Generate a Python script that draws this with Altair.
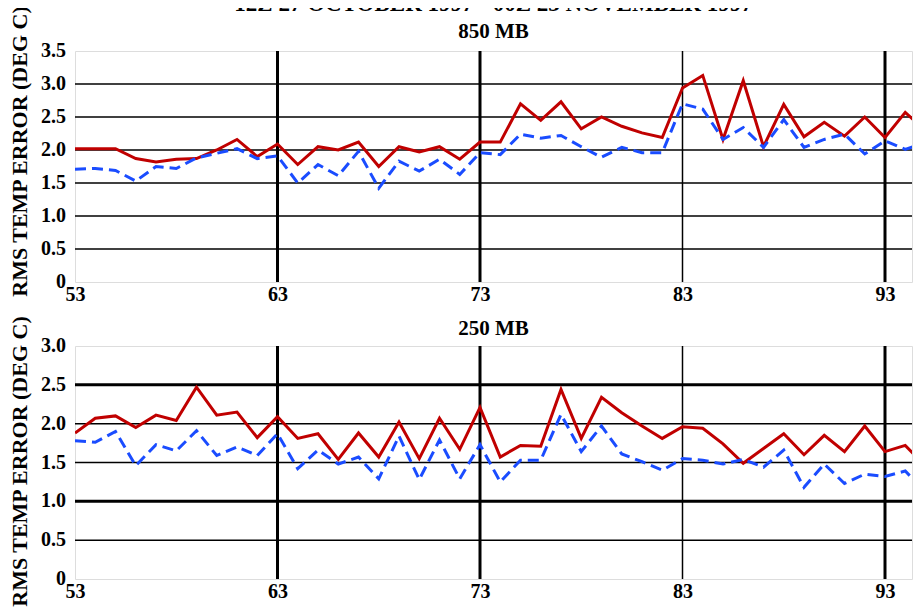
import altair as alt
import pandas as pd

hours = list(range(53, 96))

up_red = [2.02, 2.02, 2.02, 1.87, 1.82, 1.86, 1.87, 2.00, 2.16, 1.90,
          2.09, 1.78, 2.05, 2.00, 2.12, 1.75, 2.05, 1.97, 2.05, 1.86,
          2.12, 2.12, 2.70, 2.45, 2.73, 2.32, 2.50, 2.36, 2.26, 2.19,
          2.94, 3.13, 2.16, 3.05, 2.05, 2.69, 2.20, 2.42, 2.21, 2.50,
          2.19, 2.57, 2.29]
up_blue = [1.71, 1.72, 1.69, 1.53, 1.75, 1.72, 1.88, 1.95, 2.02, 1.87,
           1.91, 1.50, 1.78, 1.61, 1.98, 1.42, 1.83, 1.68, 1.86, 1.63,
           1.96, 1.93, 2.24, 2.18, 2.22, 2.05, 1.89, 2.04, 1.96, 1.96,
           2.70, 2.62, 2.16, 2.34, 2.04, 2.46, 2.04, 2.16, 2.24, 1.94,
           2.14, 2.01, 2.11]
lo_red = [1.88, 2.07, 2.10, 1.95, 2.11, 2.04, 2.47, 2.11, 2.15, 1.82,
          2.09, 1.81, 1.87, 1.54, 1.88, 1.57, 2.02, 1.55, 2.07, 1.67,
          2.21, 1.57, 1.72, 1.71, 2.44, 1.81, 2.34, 2.14, 1.97, 1.81,
          1.96, 1.94, 1.74, 1.49, 1.68, 1.87, 1.60, 1.85, 1.64, 1.97,
          1.64, 1.72, 1.45]
lo_blue = [1.78, 1.76, 1.90, 1.46, 1.73, 1.65, 1.91, 1.59, 1.70, 1.59,
           1.87, 1.42, 1.66, 1.48, 1.57, 1.29, 1.84, 1.28, 1.79, 1.29,
           1.73, 1.25, 1.53, 1.53, 2.12, 1.64, 1.97, 1.61, 1.51, 1.40,
           1.55, 1.53, 1.48, 1.54, 1.44, 1.66, 1.18, 1.48, 1.23, 1.35,
           1.32, 1.39, 1.12]

x_ticks = [53, 63, 73, 83, 93]
vgrid_thick = [63, 73, 93]
vgrid_thin = [83]
up_y_ticks = [0, 0.5, 1.0, 1.5, 2.0, 2.5, 3.0, 3.5]
up_y_labels = ["0", "0.5", "1.0", "1.5", "2.0", "2.5", "3.0", "3.5"]
lo_y_ticks = [0, 0.5, 1.0, 1.5, 2.0, 2.5, 3.0]
lo_y_labels = ["0", "0.5", "1.0", "1.5", "2.0", "2.5", "3.0"]
up_hgrid_thin = [0.5, 1.0, 1.5, 2.0, 2.5, 3.0]
up_hgrid_thick = []
lo_hgrid_thin = [0.5, 1.5, 2.0]
lo_hgrid_thick = [1.0, 2.5]

main_title = "12Z 27 OCTOBER 1997 - 00Z 23 NOVEMBER 1997"
y_title = "RMS TEMP ERROR (DEG C)"

FONT = "Liberation Serif"
RED = "#c00000"
BLUE = "#1a4cff"
W = 837
X_MAX = 53 + W / 20.25


def yscale(ymax):
    return alt.Scale(domain=[0, ymax], nice=False)


def xscale():
    return alt.Scale(domain=[53, X_MAX], nice=False, zero=False)


def rules_h(vals, width, ymax):
    df = pd.DataFrame({"v": vals})
    return alt.Chart(df).mark_rule(color="black", strokeWidth=width).encode(
        y=alt.Y("v:Q", scale=yscale(ymax)))


def rules_v(vals, width):
    df = pd.DataFrame({"v": vals})
    return alt.Chart(df).mark_rule(color="black", strokeWidth=width).encode(
        x=alt.X("v:Q", scale=xscale()))


def ylabels(vals, labels, ymax):
    df = pd.DataFrame({"v": vals, "t": labels})
    return alt.Chart(df).mark_text(
        align="right", baseline="middle", font=FONT, fontWeight="bold",
        fontSize=20, color="black", clip=False
    ).encode(x=alt.value(-9), y=alt.Y("v:Q", scale=yscale(ymax)), text="t:N")


def panel(red, blue, ymax, yticks, ylabs, hthin, hthick, title, height, title_y):
    df = pd.DataFrame({"hour": hours, "red": red, "blue": blue})
    x = alt.X("hour:Q", scale=xscale(),
              axis=alt.Axis(values=x_ticks, title=None, ticks=False, domain=False,
                            grid=False, labelOverlap=False,
                            labelFont=FONT, labelFontWeight="bold", labelFontSize=20,
                            labelColor="black", labelPadding=2, labelFlush=False))
    yaxis = alt.Axis(title=y_title, ticks=False, domain=False, grid=False, labels=False,
                     titleFont=FONT, titleFontWeight="bold", titleFontSize=22,
                     titleColor="black", titleX=-49, titleY=title_y,
                     titleAngle=270, titleAlign="center", titleBaseline="alphabetic")
    base = alt.Chart(df)
    r = base.mark_line(color=RED, strokeWidth=3, clip=True).encode(
        x=x, y=alt.Y("red:Q", scale=yscale(ymax), axis=yaxis))
    b = base.mark_line(color=BLUE, strokeWidth=3, strokeDash=[11, 6], clip=True).encode(
        x=alt.X("hour:Q"), y=alt.Y("blue:Q"))
    layers = [rules_h(hthin, 1.5, ymax)]
    if hthick:
        layers.append(rules_h(hthick, 3, ymax))
    layers += [rules_v(vgrid_thin, 1.5), rules_v(vgrid_thick, 3), r, b,
               ylabels(yticks, ylabs, ymax)]
    return alt.layer(*layers).properties(width=W, height=height, title=title)


upper = panel(up_red, up_blue, 3.5, up_y_ticks, up_y_labels, up_hgrid_thin, up_hgrid_thick,
              alt.TitleParams(text=main_title, subtitle="850 MB", font=FONT, fontWeight="bold",
                              fontSize=23, color="black", subtitleFont=FONT,
                              subtitleFontWeight="bold", subtitleFontSize=21,
                              subtitleColor="black", subtitlePadding=5, offset=-37,
                              frame="group", anchor="middle"), 231, 100)
lower = panel(lo_red, lo_blue, 3.0, lo_y_ticks, lo_y_labels, lo_hgrid_thin, lo_hgrid_thick,
              alt.TitleParams(text="250 MB", font=FONT, fontWeight="bold", fontSize=21,
                              color="black", offset=-24, frame="group", anchor="middle"),
              233, 115)

chart = alt.vconcat(upper, lower, spacing=9).properties(
    padding={"left": -1, "top": -16, "right": 0, "bottom": 0}
).configure_view(stroke="black", strokeWidth=2).configure(background="white")

chart.save("out.html", embed_options={"renderer": "svg", "actions": False})
